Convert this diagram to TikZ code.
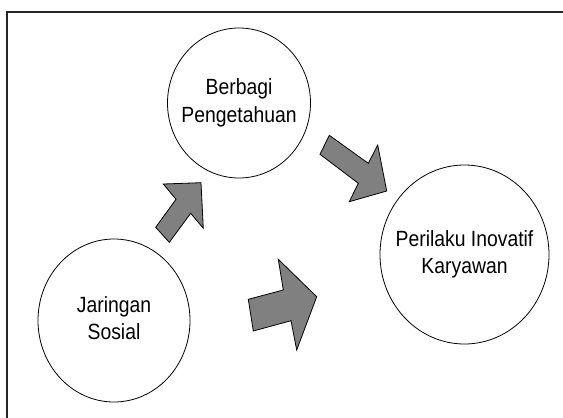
\documentclass[tikz,border=0pt]{standalone}
\usepackage{fontspec}
\setmainfont{Liberation Sans}[FakeStretch=0.88]
\usetikzlibrary{shapes.geometric}
\definecolor{arrowgray}{HTML}{808080}
\newcommand{\ctext}[1]{\makebox[0pt]{\begin{tabular}{@{}c@{}}#1\end{tabular}}}
\begin{document}
\begin{tikzpicture}[x=1pt,y=-1pt,
  bubble/.style={draw=black, line width=0.8pt, ellipse, inner sep=0pt,
    font=\fontsize{22}{27.5}\selectfont},
  blockarrow/.style={draw=black, fill=arrowgray, line width=0.8pt, line join=miter}]
\useasboundingbox (0,0) rectangle (563,418);
% frame (top and left edges only)
\draw[line width=1.6pt, draw=black!85] (7.2,418) -- (7.2,11.7) -- (563,11.7);
% circles
\node[bubble, minimum width=143pt, minimum height=150pt] (berbagi) at (239,103) {\ctext{Berbagi\\Pengetahuan}};
\node[bubble, minimum width=169pt, minimum height=179pt] (perilaku) at (464.5,254.5) {\ctext{Perilaku Inovatif\\Karyawan}};
\node[bubble, minimum width=152pt, minimum height=163pt] (jaringan) at (114,320.5) {\ctext{Jaringan\\Sosial}};
% block arrows
\draw[blockarrow] (155.7,227.3) -- (176,199.3) -- (163.3,184) -- (201,182.7) -- (203.3,228.3) -- (190.7,213.3) -- (169.3,242.3) -- cycle;
\draw[blockarrow] (329.3,135.3) -- (320,154.3) -- (358.3,183.3) -- (349.3,201.7) -- (386.7,191) -- (377.7,145) -- (368.3,163.3) -- cycle;
\draw[blockarrow] (248.3,299.3) -- (253.3,331) -- (291,320.7) -- (296.7,350) -- (316.7,296.7) -- (278.3,259.3) -- (283.3,290) -- cycle;
\end{tikzpicture}
\end{document}
